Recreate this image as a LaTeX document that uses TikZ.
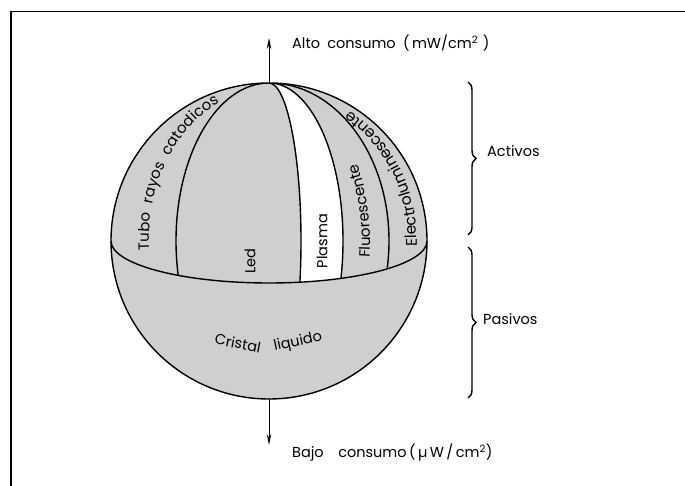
\documentclass[tikz,border=0pt]{standalone}
\usepackage{fontspec}
\setmainfont{Poppins}
\usetikzlibrary{decorations.text,decorations.pathreplacing,arrows.meta}
\begin{document}
\begin{tikzpicture}[x=1pt,y=1pt,
  outline/.style={line width=1.4pt},
  lbl/.style={font=\fontsize{14.5}{16}\selectfont, inner sep=0pt},
  inlbl/.style={font=\fontsize{14.5}{16}\selectfont, inner sep=0pt},
  fillgray/.style={fill=black!19},
  axisarrow/.style={line width=1pt, -{Stealth[length=11pt,width=4.5pt]}},
  bracestyle/.style={line width=1.4pt, decorate, decoration={brace, amplitude=8pt}},
]
\useasboundingbox (0,0) rectangle (685,486);
\fill[white] (0,0) rectangle (685,486);
% frame
\coordinate (fb) at (11,0);
\coordinate (ftl) at (11,474.5);
\coordinate (ftr) at (685,474.5);
\draw[line width=1.6pt] (fb) -- (ftl) -- (ftr);
% sphere
\coordinate (C) at (269,245);
\coordinate (N) at (269,403);
\coordinate (S) at (269,87);
\coordinate (EL) at (111,245);
\fill[fillgray] (C) circle[radius=158];
\begin{scope}
  \clip (EL) arc[start angle=180,end angle=360,x radius=158,y radius=42]
        arc[start angle=0,end angle=180,radius=158] -- cycle;
  \fill[white] (N) arc[start angle=90,end angle=-90,x radius=74,y radius=158]
               arc[start angle=-90,end angle=90,x radius=32,y radius=158] -- cycle;
  \draw[outline] (N) arc[start angle=90,end angle=270,x radius=93,y radius=158];
  \draw[outline] (N) arc[start angle=90,end angle=-90,x radius=32,y radius=158];
  \draw[outline] (N) arc[start angle=90,end angle=-90,x radius=74,y radius=158];
  \draw[outline] (N) arc[start angle=90,end angle=-90,x radius=120,y radius=158];
\end{scope}
\draw[outline] (EL) arc[start angle=180,end angle=360,x radius=158,y radius=42];
\draw[outline] (C) circle[radius=158];
% axis arrows
\coordinate (topTip) at (269,448);
\coordinate (botTip) at (269,41);
\draw[axisarrow] (N) -- (topTip);
\draw[axisarrow] (S) -- (botTip);
\node[lbl, anchor=west] (alto) at (292,443) {Alto\enspace consumo\enspace(\,mW/cm\textsuperscript{2}\,\,)};
\node[lbl, anchor=west] (bajo) at (292,33) {Bajo\quad consumo\,(\,µ\,W\,/\,cm\textsuperscript{2})};
% braces
\coordinate (a1) at (468,404);
\coordinate (a2) at (468,251);
\coordinate (p1) at (468,239);
\coordinate (p2) at (468,88);
\draw[bracestyle] (a1) -- (a2);
\draw[bracestyle] (p1) -- (p2);
\node[lbl, anchor=west] (activos) at (487,335) {Activos};
\node[lbl, anchor=west] (pasivos) at (483,167) {Pasivos};
% curved labels
\path[decorate, decoration={text along path, text align=left,
   text={|\fontsize{15}{17}\selectfont|Tubo {\kern5pt}rayos {\kern5pt}catodicos}}]
   (149.2,235.5) arc[start angle=183.5,end angle=95,x radius=120,y radius=152];
\path[decorate, decoration={text along path, text align=left,
   text={|\fontsize{15.5}{17}\selectfont|Electroluminescente}}]
   (416.9,239.6) arc[start angle=-2,end angle=85,x radius=148,y radius=155];
\path[decorate, decoration={text along path, text align=left,
   text={|\fontsize{15}{17}\selectfont|Fluorescente}}]
   (369.5,228) arc[start angle=-6.2,end angle=45,x radius=101,y radius=158];
\node[inlbl, rotate=90] (led) at (250,225) {Led};
\node[inlbl, rotate=90] (plasma) at (322,245) {Plasma};
\node[inlbl, rotate=-11] (cristal) at (238,143) {Cristal};
\node[inlbl, rotate=12] (liquido) at (298,144) {liquido};
\end{tikzpicture}
\end{document}
